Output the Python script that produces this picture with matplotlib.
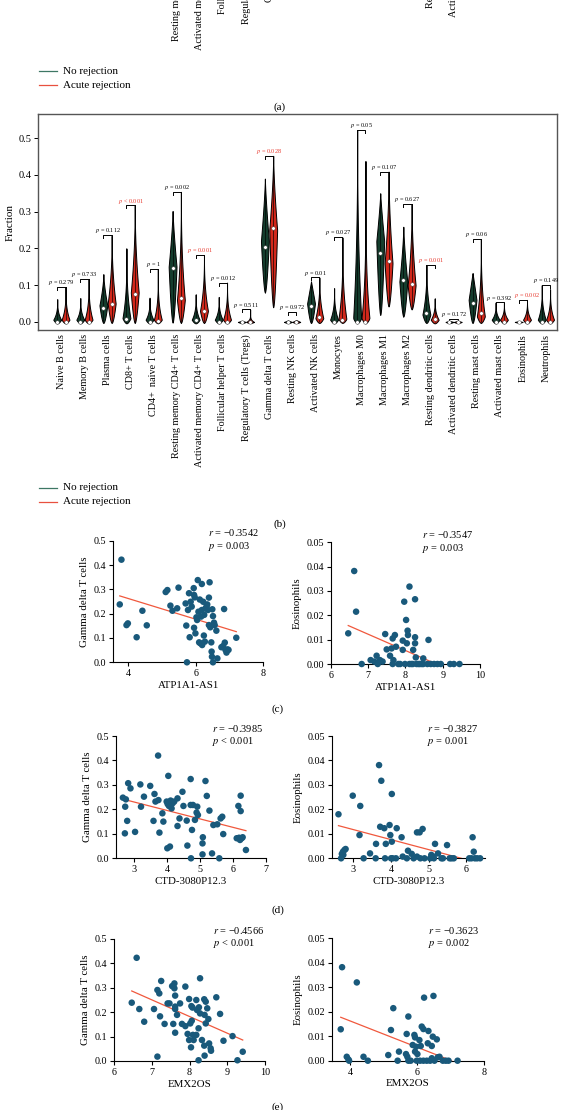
import numpy as np
import matplotlib
matplotlib.use("Agg")
import matplotlib.pyplot as plt
from matplotlib.lines import Line2D
from matplotlib.ticker import FormatStrFormatter

plt.rcParams['font.family'] = ['Liberation Serif', 'DejaVu Serif']
plt.rcParams['mathtext.fontset'] = 'stix'

# ---------------- DATA ----------------
cells = ["Naive B cells", "Memory B cells", "Plasma cells", "CD8+ T cells",
         "CD4+  naive T cells", "Resting memory CD4+ T cells",
         "Activated memory CD4+ T cells", "Follicular helper T cells",
         "Regulatory T cells (Tregs)", "Gamma delta T cells", "Resting NK cells",
         "Activated NK cells", "Monocytes", "Macrophages M0", "Macrophages M1",
         "Macrophages M2", "Resting dendritic cells", "Activated dendritic cells",
         "Resting mast cells", "Activated mast cells", "Eosinophils", "Neutrophils"]
# labels of panel (a) whose lower end reaches into the picture
panel_a_visible = [False, False, False, False, False, True, True, True, True, True, False,
                   False, False, False, False, False, True, True, False, False, False, False]

# violin summaries: [low, high, median, y of widest point, tail steepness]
no_rej = [
    [-0.004, 0.062, 0.001, 0.006, 3.0],
    [-0.004, 0.065, 0.001, 0.006, 3.0],
    [-0.003, 0.130, 0.037, 0.045, 1.5],
    [-0.004, 0.200, 0.008, 0.010, 3.0],
    [-0.004, 0.066, 0.001, 0.006, 3.0],
    [-0.002, 0.302, 0.146, 0.150, 1.3],
    [-0.004, 0.075, 0.005, 0.006, 3.0],
    [-0.004, 0.068, 0.001, 0.006, 3.0],
    [-0.003, 0.003, 0.000, 0.000, 1.0],
    [0.080, 0.390, 0.205, 0.220, 1.3],
    [-0.003, 0.004, 0.000, 0.000, 1.0],
    [-0.003, 0.110, 0.042, 0.050, 1.0],
    [-0.004, 0.092, 0.001, 0.006, 3.0],
    [-0.004, 0.522, 0.001, 0.010, 2.5],
    [0.019, 0.350, 0.188, 0.220, 1.2],
    [0.0145, 0.259, 0.113, 0.110, 1.4],
    [-0.003, 0.155, 0.024, 0.020, 2.5],
    [-0.003, 0.003, 0.000, 0.000, 1.0],
    [-0.003, 0.133, 0.051, 0.060, 1.0],
    [-0.004, 0.053, 0.001, 0.006, 3.0],
    [-0.002, 0.002, 0.000, 0.000, 1.0],
    [-0.004, 0.100, 0.001, 0.006, 3.0],
]
acute_rej = [
    [-0.004, 0.095, 0.001, 0.006, 3.0],
    [-0.004, 0.117, 0.001, 0.006, 3.0],
    [-0.003, 0.235, 0.050, 0.050, 2.2],
    [-0.003, 0.317, 0.077, 0.080, 2.0],
    [-0.004, 0.143, 0.003, 0.006, 3.5],
    [-0.003, 0.354, 0.066, 0.060, 2.5],
    [-0.003, 0.181, 0.029, 0.030, 2.5],
    [-0.004, 0.107, 0.001, 0.006, 3.0],
    [-0.003, 0.034, 0.000, 0.000, 6.0],
    [0.040, 0.452, 0.255, 0.250, 1.5],
    [-0.003, 0.005, 0.000, 0.000, 1.0],
    [-0.003, 0.121, 0.0145, 0.010, 2.5],
    [-0.003, 0.230, 0.005, 0.008, 3.0],
    [-0.004, 0.438, 0.001, 0.010, 4.0],
    [0.042, 0.409, 0.166, 0.160, 1.8],
    [0.034, 0.320, 0.103, 0.100, 2.0],
    [-0.004, 0.064, 0.007, 0.006, 3.0],
    [-0.003, 0.003, 0.000, 0.000, 1.0],
    [-0.003, 0.225, 0.023, 0.015, 2.8],
    [-0.004, 0.052, 0.001, 0.006, 3.0],
    [-0.004, 0.060, 0.001, 0.006, 3.0],
    [-0.004, 0.089, 0.001, 0.006, 3.0],
]
bracket_h = [0.096, 0.117, 0.236, 0.317, 0.143, 0.354, 0.181, 0.107, 0.034, 0.452,
             0.026, 0.121, 0.232, 0.522, 0.409, 0.320, 0.155, 0.007, 0.225, 0.053,
             0.060, 0.100]
p_text = ["= 0.279", "= 0.733", "= 0.112", "< 0.001", "= 1", "= 0.002", "= 0.001",
          "= 0.012", "= 0.511", "= 0.028", "= 0.972", "= 0.01", "= 0.027", "= 0.05",
          "= 0.107", "= 0.627", "= 0.001", "= 0.172", "= 0.06", "= 0.392", "= 0.002",
          "= 0.149"]
p_sig = [False, False, False, True, False, False, True, False, False, True, False,
         False, False, False, False, False, True, False, False, False, True, False]

# scatter panels
c1_x = [3.80, 3.75, 3.95, 3.99, 4.25, 4.42, 4.55, 5.11, 5.16, 5.25, 5.31, 5.49, 5.45, 5.70,
        5.74, 5.72, 5.80, 5.77, 5.82, 5.85, 5.88, 5.94, 5.95, 5.97, 5.95, 5.99, 6.02, 6.04,
        6.06, 6.08, 6.10, 6.12, 6.14, 6.16, 6.18, 6.18, 6.19, 6.22, 6.24, 6.25, 6.27, 6.29,
        6.32, 6.34, 6.36, 6.39, 6.39, 6.41, 6.43, 6.46, 6.47, 6.48, 6.49, 6.51, 6.51, 6.54,
        6.56, 6.61, 6.64, 6.84, 6.76, 6.81, 6.86, 6.88, 6.91, 6.94, 6.97, 7.20]
c1_y = [0.422, 0.238, 0.153, 0.160, 0.103, 0.212, 0.152, 0.289, 0.297, 0.233, 0.212, 0.307,
        0.222, 0.242, 0.000, 0.151, 0.284, 0.215, 0.103, 0.249, 0.229, 0.305, 0.277, 0.267,
        0.142, 0.119, 0.185, 0.174, 0.338, 0.208, 0.082, 0.258, 0.078, 0.188, 0.322, 0.215,
        0.071, 0.249, 0.110, 0.195, 0.085, 0.222, 0.229, 0.238, 0.215, 0.153, 0.266, 0.329,
        0.144, 0.082, 0.044, 0.023, 0.218, 0.190, 0.000, 0.163, 0.153, 0.130, 0.016, 0.219,
        0.062, 0.067, 0.081, 0.051, 0.040, 0.053, 0.051, 0.101]
c1_fit_x = [3.75, 7.20]
c1_fit_y = [0.273, 0.126]

c2_x = [6.47, 6.63, 6.68, 6.83, 7.07, 7.17, 7.23, 7.26, 7.32, 7.39, 7.46, 7.50, 7.59, 7.63,
        7.66, 7.66, 7.68, 7.72, 7.75, 7.81, 7.86, 7.93, 7.93, 7.97, 7.99, 8.02, 8.04, 8.06,
        8.07, 8.11, 8.11, 8.16, 8.20, 8.21, 8.26, 8.26, 8.26, 8.28, 8.30, 8.35, 8.39, 8.44,
        8.48, 8.48, 8.59, 8.62, 8.68, 8.77, 8.86, 8.95, 9.20, 9.30, 9.45]
c2_y = [0.0126, 0.0382, 0.0215, 0.0, 0.0016, 0.0010, 0.0034, 0.0, 0.0016, 0.0010, 0.0123,
        0.0060, 0.0034, 0.0064, 0.0105, 0.0, 0.0016, 0.0119, 0.0071, 0.0, 0.0, 0.0058,
        0.0096, 0.0256, 0.0, 0.0181, 0.0085, 0.0137, 0.0119, 0.0318, 0.0, 0.0, 0.0, 0.0058,
        0.0266, 0.0110, 0.0085, 0.0027, 0.0, 0.0, 0.0, 0.0, 0.0023, 0.0, 0.0, 0.0099, 0.0,
        0.0, 0.0, 0.0, 0.0, 0.0, 0.0]
c2_fit_x = [6.47, 8.83]
c2_fit_y = [0.0158, 0.0]

d1_x = [2.65, 2.74, 2.72, 2.71, 2.78, 2.81, 2.88, 3.02, 3.18, 3.20, 3.29, 3.48, 3.58, 3.61,
        3.64, 3.72, 3.73, 3.76, 3.85, 3.88, 3.98, 4.01, 4.00, 4.03, 4.05, 4.08, 4.10, 4.13,
        4.16, 4.21, 4.31, 4.31, 4.37, 4.46, 4.49, 4.59, 4.61, 4.71, 4.71, 4.72, 4.75, 4.78,
        4.84, 4.89, 4.91, 4.93, 5.07, 5.08, 5.07, 5.16, 5.20, 5.28, 5.36, 5.40, 5.52, 5.58,
        5.62, 5.67, 5.70, 6.11, 6.16, 6.18, 6.21, 6.23, 6.23, 6.26, 6.29, 6.39]
d1_y = [0.248, 0.241, 0.211, 0.102, 0.153, 0.307, 0.286, 0.108, 0.302, 0.211, 0.252, 0.296,
        0.153, 0.263, 0.232, 0.420, 0.238, 0.105, 0.184, 0.150, 0.232, 0.222, 0.041, 0.337,
        0.214, 0.048, 0.236, 0.204, 0.225, 0.232, 0.245, 0.132, 0.163, 0.272, 0.214, 0.154,
        0.052, 0.324, 0.218, 0.000, 0.116, 0.218, 0.157, 0.187, 0.211, 0.177, 0.061, 0.086,
        0.016, 0.316, 0.255, 0.195, 0.020, 0.136, 0.139, 0.000, 0.163, 0.170, 0.099, 0.082,
        0.214, 0.084, 0.075, 0.256, 0.193, 0.082, 0.086, 0.034]
d1_fit_x = [2.82, 6.39]
d1_fit_y = [0.236, 0.113]

d2_x = [2.60, 2.67, 2.69, 2.72, 2.73, 2.76, 2.79, 2.98, 3.16, 3.18, 3.27, 3.44, 3.59, 3.60,
        3.68, 3.71, 3.74, 3.82, 3.84, 3.86, 3.96, 3.98, 4.00, 4.02, 4.02, 4.04, 4.13, 4.15,
        4.28, 4.31, 4.42, 4.45, 4.55, 4.60, 4.69, 4.69, 4.76, 4.78, 4.84, 4.89, 5.04, 5.07,
        5.13, 5.14, 5.17, 5.25, 5.34, 5.38, 5.49, 5.56, 5.61, 5.67, 6.08, 6.14, 6.17, 6.20,
        6.23, 6.29, 6.37]
d2_y = [0.0180, 0.0, 0.0018, 0.0027, 0.0014, 0.0034, 0.0038, 0.0256, 0.0095, 0.0214, 0.0,
        0.0020, 0.0, 0.0059, 0.0381, 0.0129, 0.0317, 0.0123, 0.0, 0.0059, 0.0136, 0.0095,
        0.0, 0.0263, 0.0068, 0.0, 0.0, 0.0123, 0.0086, 0.0007, 0.0, 0.0031, 0.0018, 0.0,
        0.0007, 0.0106, 0.0106, 0.0, 0.0120, 0.0, 0.0, 0.0014, 0.0007, 0.0, 0.0059, 0.0020,
        0.0, 0.0, 0.0054, 0.0, 0.0, 0.0, 0.0, 0.0, 0.0086, 0.0027, 0.0, 0.0, 0.0]
d2_fit_x = [2.60, 5.87]
d2_fit_y = [0.01335, 0.0]

e1_x = [6.47, 6.60, 6.67, 6.80, 7.06, 7.15, 7.15, 7.20, 7.25, 7.22, 7.34, 7.42, 7.47, 7.54,
        7.57, 7.60, 7.60, 7.62, 7.62, 7.62, 7.62, 7.67, 7.75, 7.80, 7.89, 7.89, 7.95, 7.99,
        7.99, 8.02, 8.04, 8.05, 8.06, 8.08, 8.09, 8.11, 8.18, 8.18, 8.20, 8.24, 8.24, 8.25,
        8.28, 8.28, 8.33, 8.39, 8.39, 8.40, 8.40, 8.43, 8.43, 8.47, 8.50, 8.52, 8.56, 8.57,
        8.71, 8.81, 8.90, 9.14, 9.27, 9.41]
e1_y = [0.239, 0.423, 0.213, 0.161, 0.213, 0.291, 0.018, 0.277, 0.328, 0.183, 0.152, 0.236,
        0.236, 0.307, 0.152, 0.318, 0.298, 0.268, 0.223, 0.213, 0.116, 0.189, 0.236, 0.152,
        0.305, 0.143, 0.111, 0.254, 0.086, 0.154, 0.056, 0.225, 0.165, 0.219, 0.107, 0.086,
        0.250, 0.107, 0.209, 0.134, 0.003, 0.220, 0.339, 0.195, 0.086, 0.253, 0.063, 0.022,
        0.189, 0.243, 0.154, 0.216, 0.172, 0.072, 0.052, 0.042, 0.261, 0.193, 0.083, 0.102,
        0.003, 0.038]
e1_fit_x = [6.47, 9.41]
e1_fit_y = [0.287, 0.086]

e2_x = [3.72, 3.76, 3.90, 3.95, 3.97, 4.20, 4.40, 4.53, 5.14, 5.22, 5.29, 5.42, 5.46, 5.67,
        5.69, 5.71, 5.74, 5.74, 5.81, 5.87, 5.92, 5.94, 5.94, 5.97, 5.99, 6.01, 6.07, 6.09,
        6.11, 6.14, 6.19, 6.19, 6.21, 6.29, 6.32, 6.34, 6.39, 6.44, 6.44, 6.47, 6.49, 6.52,
        6.59, 6.62, 6.67, 6.77, 6.86, 6.94, 7.21]
e2_y = [0.0128, 0.0381, 0.0016, 0.0005, 0.0, 0.0319, 0.0016, 0.0, 0.0023, 0.0125, 0.0214,
        0.0, 0.0037, 0.0027, 0.0109, 0.0016, 0.0180, 0.0, 0.0, 0.0064, 0.0105, 0.0095,
        0.0037, 0.0057, 0.0, 0.0027, 0.0084, 0.0, 0.0060, 0.0139, 0.0129, 0.0, 0.0257, 0.0,
        0.0071, 0.0121, 0.0, 0.0060, 0.0010, 0.0098, 0.0264, 0.0, 0.0087, 0.0014, 0.0016,
        0.0, 0.0, 0.0, 0.0]
e2_fit_x = [3.72, 7.03]
e2_fit_y = [0.0177, 0.0]

# ---------------- STYLE ----------------
W, H = 562, 1110
GREEN = "#143d2d"
RED = "#d1281b"
LEG_GREEN = "#3d7764"
LEG_RED = "#e8503f"
DOT = "#19597b"
FIT = "#f0583d"
PRED = "#e8382d"

fig = plt.figure(figsize=(W / 100, H / 100), dpi=100)


def px_axes(left, top, right, bottom):
    return fig.add_axes([left / W, 1 - bottom / H, (right - left) / W, (bottom - top) / H])


def fx(x):
    return x / W


def fy(y):
    return 1 - y / H


def violin_stats(p):
    lo, hi, med, peak, k = p
    coords = np.linspace(lo, hi, 120)
    if peak > lo:
        rise = np.clip((coords - lo) / (peak - lo), 0, 1) ** 0.6
    else:
        rise = np.ones_like(coords)
    if hi > peak:
        fall = np.clip((hi - coords) / (hi - peak), 0, 1) ** k
    else:
        fall = np.ones_like(coords)
    vals = np.where(coords <= peak, rise, fall)
    vals = np.maximum(vals, 1e-3)
    return dict(coords=coords, vals=vals, mean=med, median=med, min=lo, max=hi)


n = len(cells)
pos = np.arange(n)
off = 0.18
# small horizontal nudges of crowded p-value labels (layout only)
label_nudge = {19: -0.05, 20: 0.2}


def draw_violin_panel(ax, labels, with_marks=True):
    ax.set_xlim(-1.0, 21.48)
    ax.set_ylim(-0.022, 0.565)
    ax.set_xticks(pos)
    ax.set_xticklabels(labels, rotation=90, fontsize=7.3)
    ax.tick_params(axis='x', length=0, pad=3)
    if not with_marks:
        return
    for grp, col, sgn in ((no_rej, GREEN, -1), (acute_rej, RED, 1)):
        stats = [violin_stats(p) for p in grp]
        parts = ax.violin(stats, positions=pos + sgn * off, widths=0.34,
                          showmeans=False, showextrema=False, showmedians=False)
        for b in parts['bodies']:
            b.set_facecolor(col)
            b.set_edgecolor('black')
            b.set_linewidth(0.7)
            b.set_alpha(1)
        lows = [max(p[0], 0) for p in grp]
        highs = [p[1] for p in grp]
        ax.vlines(pos + sgn * off, lows, highs, color='black', lw=0.45, zorder=3)
        ax.plot(pos + sgn * off, [p[2] for p in grp], 'o', ms=2.6, mfc='white',
                mec='#333333', mew=0.3, zorder=4, ls='none')
    for i in range(n):
        h = bracket_h[i]
        xl, xr = pos[i] - off, pos[i] + off
        lb = max(no_rej[i][1], h - 0.008)
        rb = max(acute_rej[i][1], h - 0.008)
        ax.plot([xl, xl, xr, xr], [lb, h, h, rb], color='black', lw=0.7, zorder=3)
        ax.text(pos[i] + label_nudge.get(i, 0.0), h + 0.012, r"$p$ " + p_text[i],
                ha='center', va='center', fontsize=4.5,
                color=PRED if p_sig[i] else 'black')


# ---------- panel (a): only the lower end of the long tick labels is visible ----------
shift = 417
axa = px_axes(38.3, 114.3 - shift, 557, 330 - shift)
draw_violin_panel(axa, [c if v else "" for c, v in zip(cells, panel_a_visible)],
                  with_marks=False)
axa.set_yticks([])
for s in axa.spines.values():
    s.set_visible(False)
axa.patch.set_visible(False)

# ---------- panel (b) ----------
axb = px_axes(38.3, 114.3, 557, 330)
draw_violin_panel(axb, cells)
axb.set_yticks([0.0, 0.1, 0.2, 0.3, 0.4, 0.5])
axb.yaxis.set_major_formatter(FormatStrFormatter('%.1f'))
axb.tick_params(axis='y', labelsize=7.5, length=3, width=0.7, pad=2)
axb.set_ylabel("Fraction", fontsize=8, labelpad=3)
for s in axb.spines.values():
    s.set_color('#555555')
    s.set_linewidth(1.0)


# legends
def legend_at(y1, y2):
    fig.add_artist(Line2D([fx(39), fx(57)], [fy(y1), fy(y1)], color=LEG_GREEN, lw=0.9))
    fig.add_artist(Line2D([fx(39), fx(57)], [fy(y2), fy(y2)], color=LEG_RED, lw=0.9))
    fig.text(fx(63), fy(y1), "No rejection", fontsize=8, va='center', ha='left')
    fig.text(fx(63), fy(y2), "Acute rejection", fontsize=8, va='center', ha='left')


legend_at(71, 85)
legend_at(71 + shift, 85 + shift)

fig.text(fx(280), fy(107), "(a)", fontsize=8, ha='center', va='center')
fig.text(fx(280), fy(107 + shift), "(b)", fontsize=8, ha='center', va='center')


# ---------- scatter panels ----------
def scatter_panel(rect, xs, ys, fx_, fy_, xlim, xticks, ylim, yticks, yfmt,
                  xlabel, ylabel, r_txt, p_txt, txt_xy):
    ax = px_axes(*rect)
    ax.scatter(xs, ys, s=22, color=DOT, edgecolors='none', zorder=4, clip_on=False)
    ax.plot(fx_, fy_, color=FIT, lw=0.9, zorder=3)
    ax.set_xlim(*xlim)
    ax.set_ylim(*ylim)
    ax.set_xticks(xticks)
    ax.set_yticks(yticks)
    ax.yaxis.set_major_formatter(FormatStrFormatter(yfmt))
    ax.spines['top'].set_visible(False)
    ax.spines['right'].set_visible(False)
    for s in ('left', 'bottom'):
        ax.spines[s].set_linewidth(0.8)
    ax.tick_params(labelsize=7.3, length=3, width=0.8, pad=2)
    ax.set_xlabel(xlabel, fontsize=7.8, labelpad=2)
    ax.set_ylabel(ylabel, fontsize=7.8, labelpad=3)
    tx, ty = txt_xy
    fig.text(fx(tx), fy(ty), r"$r$ = " + r_txt, fontsize=7.5, va='center', ha='left')
    fig.text(fx(tx), fy(ty + 13), r"$p$ " + p_txt, fontsize=7.5, va='center', ha='left')
    return ax


scatter_panel((113, 540.7, 263.3, 662.3), c1_x, c1_y, c1_fit_x, c1_fit_y,
              (3.55, 8), [4, 6, 8], (0, 0.5), [0, 0.1, 0.2, 0.3, 0.4, 0.5], '%.1f',
              "ATP1A1-AS1", "Gamma delta T cells", "\u22120.3542", "= 0.003", (208, 533))
scatter_panel((330.7, 542.3, 480, 664), c2_x, c2_y, c2_fit_x, c2_fit_y,
              (6, 10), [6, 7, 8, 9, 10], (0, 0.05), [0, 0.01, 0.02, 0.03, 0.04, 0.05], '%.2f',
              "ATP1A1-AS1", "Eosinophils", "\u22120.3547", "= 0.003", (421.7, 535))
scatter_panel((116, 736, 266, 858.3), d1_x, d1_y, d1_fit_x, d1_fit_y,
              (2.44, 7), [3, 4, 5, 6, 7], (0, 0.5), [0, 0.1, 0.2, 0.3, 0.4, 0.5], '%.1f',
              "CTD-3080P12.3", "Gamma delta T cells", "\u22120.3985", "< 0.001", (212, 729))
scatter_panel((331.7, 736, 485, 858.3), d2_x, d2_y, d2_fit_x, d2_fit_y,
              (2.42, 6.5), [3, 4, 5, 6], (0, 0.05), [0, 0.01, 0.02, 0.03, 0.04, 0.05], '%.2f',
              "CTD-3080P12.3", "Eosinophils", "\u22120.3827", "= 0.001", (426.7, 729))
scatter_panel((114, 939, 265, 1061), e1_x, e1_y, e1_fit_x, e1_fit_y,
              (6, 10), [6, 7, 8, 9, 10], (0, 0.5), [0, 0.1, 0.2, 0.3, 0.4, 0.5], '%.1f',
              "EMX2OS", "Gamma delta T cells", "\u22120.4566", "< 0.001", (213, 930))
scatter_panel((331.7, 938, 484, 1060.7), e2_x, e2_y, e2_fit_x, e2_fit_y,
              (3.45, 8), [4, 6, 8], (0, 0.05), [0, 0.01, 0.02, 0.03, 0.04, 0.05], '%.2f',
              "EMX2OS", "Eosinophils", "\u22120.3623", "= 0.002", (428, 931))

fig.text(fx(278), fy(709), "(c)", fontsize=8, ha='center', va='center')
fig.text(fx(278), fy(910), "(d)", fontsize=8, ha='center', va='center')
fig.text(fx(278), fy(1107), "(e)", fontsize=8, ha='center', va='center')

fig.savefig("out.png", dpi=100)
